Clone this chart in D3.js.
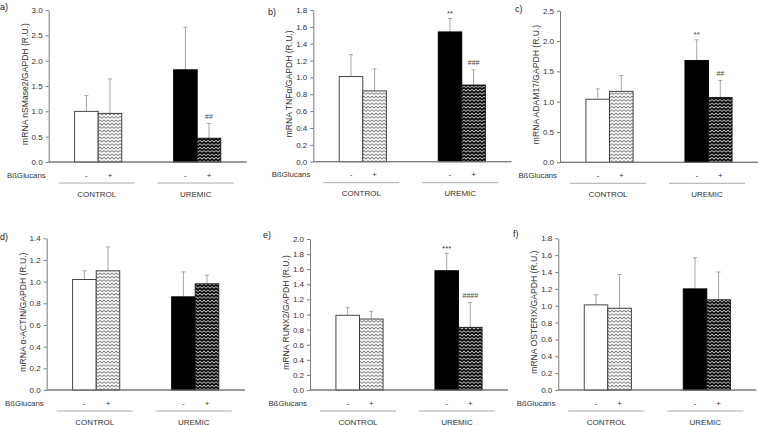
<!DOCTYPE html>
<html>
<head>
<meta charset="utf-8">
<script src="https://cdn.jsdelivr.net/npm/d3@7"></script>
<style>
  html, body { margin: 0; padding: 0; background: #fff; }
  svg { display: block; font-family: "Liberation Sans", Arial, sans-serif; }
</style>
</head>
<body>
<svg id="chart" width="758" height="425"></svg>
<script>
// ---------------- data ----------------
const panelIds = ["a)", "b)", "c)", "d)", "e)", "f)"];
const yTitles = [
  "mRNA nSMase2/GAPDH (R.U.)",
  "mRNA TNFα/GAPDH (R.U.)",
  "mRNA ADAM17/GAPDH (R.U.)",
  "mRNA α-ACTIN/GAPDH (R.U.)",
  "mRNA RUNX2/GAPDH (R.U.)",
  "mRNA OSTERIX/GAPDH (R.U.)"
];
const yMaxes = [3.0, 1.8, 2.5, 1.4, 2.0, 1.8];
const yTickSteps = [0.5, 0.2, 0.5, 0.2, 0.2, 0.2];
const groups = ["CONTROL", "UREMIC"];
const treatments = ["-", "+"];
const treatmentLabel = "BßGlucans";

// order of each array: CONTROL -, CONTROL +, UREMIC -, UREMIC +
const nSMase2Mean = [1.00, 0.96, 1.82, 0.47];
const nSMase2Err  = [0.31, 0.68, 0.84, 0.29];
const nSMase2Sig  = ["", "", "", "##"];
const tnfMean = [1.01, 0.84, 1.54, 0.91];
const tnfErr  = [0.26, 0.26, 0.16, 0.18];
const tnfSig  = ["", "", "**", "###"];
const adam17Mean = [1.04, 1.17, 1.68, 1.07];
const adam17Err  = [0.17, 0.26, 0.34, 0.28];
const adam17Sig  = ["", "", "**", "##"];
const actinMean = [1.02, 1.10, 0.86, 0.98];
const actinErr  = [0.08, 0.22, 0.23, 0.08];
const actinSig  = ["", "", "", ""];
const runx2Mean = [0.99, 0.94, 1.58, 0.83];
const runx2Err  = [0.10, 0.10, 0.23, 0.33];
const runx2Sig  = ["", "", "***", "####"];
const osterixMean = [1.01, 0.97, 1.20, 1.07];
const osterixErr  = [0.12, 0.40, 0.37, 0.33];
const osterixSig  = ["", "", "", ""];

const allMeans = [nSMase2Mean, tnfMean, adam17Mean, actinMean, runx2Mean, osterixMean];
const allErrs  = [nSMase2Err, tnfErr, adam17Err, actinErr, runx2Err, osterixErr];
const allSigs  = [nSMase2Sig, tnfSig, adam17Sig, actinSig, runx2Sig, osterixSig];

// ---------------- layout ----------------
const axisX   = [48.7, 313.3, 560, 46.7, 310, 558.3];
const axisTop = [10, 10, 10.7, 238.3, 239, 238.3];
const axisBot = [162, 161.7, 162.3, 390, 390, 390];
const labelPos = [[0, 10], [268, 15], [515, 12], [0, 240], [263, 238], [513, 237]];
const axisLen = 198;

const svg = d3.select("#chart");
const defs = svg.append("defs");

function zigzag(id, bg, fg) {
  const p = defs.append("pattern").attr("id", id)
    .attr("patternUnits", "userSpaceOnUse")
    .attr("width", 4).attr("height", 3.4);
  p.append("rect").attr("width", 4).attr("height", 3.4).attr("fill", bg);
  p.append("path").attr("d", "M-1,2.2 L0,1 L2,2.6 L4,1 L5,2.2")
    .attr("fill", "none").attr("stroke", fg).attr("stroke-width", 0.9);
}
zigzag("zzLight", "#ffffff", "#6a6a6a");
zigzag("zzDark", "#000000", "#d8d8d8");

const fills = ["#ffffff", "url(#zzLight)", "#000000", "url(#zzDark)"];
const strokes = ["#333", "#333", "#000", "#111"];
const textCol = "#333";
const axisCol = "#7a7a7a";

panelIds.forEach((pid, i) => {
  const ax = axisX[i], top = axisTop[i], bot = axisBot[i];
  const g = svg.append("g");

  const y = d3.scaleLinear().domain([0, yMaxes[i]]).range([bot, top]);
  const xg = d3.scaleBand().domain(groups).range([ax, ax + axisLen]).padding(0);
  const xt = d3.scaleBand().domain(treatments).range([0, xg.bandwidth()])
    .paddingInner(0).paddingOuter(1.1);

  const nT = Math.round(yMaxes[i] / yTickSteps[i]);
  const ticks = d3.range(nT + 1).map(k => k * yTickSteps[i]);

  // y axis
  const yAxis = g.append("g").attr("transform", `translate(${ax},0)`)
    .call(d3.axisLeft(y).tickValues(ticks).tickFormat(d3.format(".1f"))
      .tickSize(3).tickSizeOuter(0).tickPadding(3));
  yAxis.select(".domain").attr("stroke", axisCol);
  yAxis.selectAll(".tick line").attr("stroke", axisCol);
  yAxis.selectAll(".tick text").attr("fill", textCol)
    .style("font-size", "8px").style("font-family", "Liberation Sans, Arial, sans-serif");

  // x baseline
  g.append("line").attr("x1", ax).attr("x2", ax + axisLen)
    .attr("y1", bot).attr("y2", bot).attr("stroke", axisCol).attr("stroke-width", 1);

  // bars
  const items = [];
  groups.forEach((gr, gi) => treatments.forEach((tr, ti) => {
    const k = gi * 2 + ti;
    items.push({gr, tr, k, m: allMeans[i][k], e: allErrs[i][k], s: allSigs[i][k]});
  }));

  // error bars (upper only)
  items.forEach(d => {
    const cx = xg(d.gr) + xt(d.tr) + xt.bandwidth() / 2;
    g.append("line").attr("x1", cx).attr("x2", cx)
      .attr("y1", y(d.m)).attr("y2", y(d.m + d.e))
      .attr("stroke", "#a5a5a5").attr("stroke-width", 1);
    g.append("line").attr("x1", cx - 2).attr("x2", cx + 2)
      .attr("y1", y(d.m + d.e)).attr("y2", y(d.m + d.e))
      .attr("stroke", "#a5a5a5").attr("stroke-width", 1);
    if (d.s) {
      const isStar = d.s[0] === "*";
      g.append("text").attr("x", cx)
        .attr("y", y(d.m + d.e) - (isStar ? 2.8 : 4.6))
        .attr("text-anchor", "middle")
        .attr("fill", "#444")
        .style("font-size", isStar ? "8px" : "7px")
        .text(d.s);
    }
  });

  g.selectAll("rect.bar").data(items).join("rect")
    .attr("class", "bar")
    .attr("x", d => xg(d.gr) + xt(d.tr))
    .attr("width", xt.bandwidth())
    .attr("y", d => y(d.m))
    .attr("height", d => bot - y(d.m))
    .attr("fill", d => fills[d.k])
    .attr("stroke", d => strokes[d.k])
    .attr("stroke-width", 0.9);

  // redraw baseline on top
  g.append("line").attr("x1", ax).attr("x2", ax + axisLen)
    .attr("y1", bot).attr("y2", bot).attr("stroke", axisCol).attr("stroke-width", 1);

  // y title
  const midY = (top + bot) / 2 - 2;
  g.append("text")
    .attr("transform", `translate(${ax - 24},${midY}) rotate(-90)`)
    .attr("text-anchor", "middle").attr("dy", "0.35em")
    .attr("fill", textCol).style("font-size", "8.6px")
    .text(yTitles[i]);

  // panel label
  g.append("text").attr("x", labelPos[i][0]).attr("y", labelPos[i][1])
    .attr("fill", "#222").style("font-size", "9px").text(pid);

  // treatment row
  g.append("text").attr("x", ax - 3).attr("y", bot + 15.5)
    .attr("text-anchor", "end").attr("fill", textCol)
    .style("font-size", "7.8px").text(treatmentLabel);
  items.forEach(d => {
    g.append("text").attr("x", xg(d.gr) + xt(d.tr) + xt.bandwidth() / 2)
      .attr("y", bot + 15.5).attr("text-anchor", "middle")
      .attr("fill", textCol).style("font-size", "8px").text(d.tr);
  });

  // group lines and labels
  groups.forEach(gr => {
    const c = xg(gr) + xg.bandwidth() / 2 - 1.5;
    g.append("line").attr("x1", c - 38).attr("x2", c + 38)
      .attr("y1", bot + 21).attr("y2", bot + 21)
      .attr("stroke", "#aaaaaa").attr("stroke-width", 1);
    g.append("text").attr("x", c).attr("y", bot + 34.5)
      .attr("text-anchor", "middle").attr("fill", textCol)
      .style("font-size", "8px").text(gr);
  });
});
</script>
</body>
</html>
